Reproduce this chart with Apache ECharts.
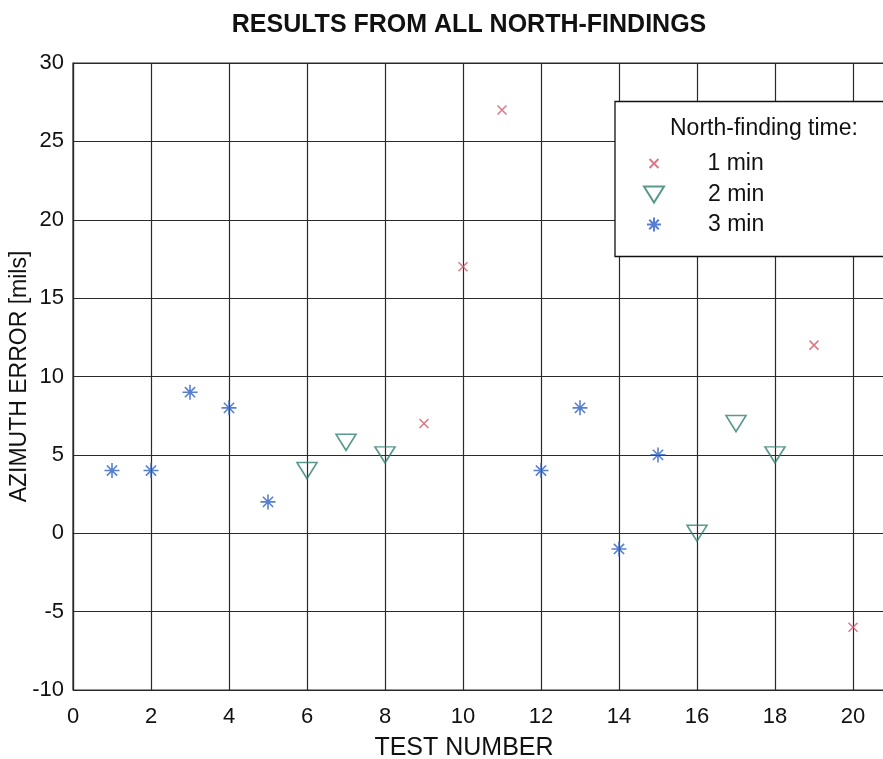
<!DOCTYPE html>
<html>
<head>
<meta charset="utf-8">
<script src="https://cdn.jsdelivr.net/npm/echarts@6/dist/echarts.min.js"></script>
<style>html,body{margin:0;padding:0;background:#fff}#c{width:883px;height:759px}</style>
</head>
<body>
<div id="c"></div>
<script>
// Data (test number, azimuth error in mils)
const oneMin = [[9, 7], [10, 17], [11, 27], [19, 12], [20, -6]];
const twoMin = [[6, 4], [7, 5.8], [8, 5], [16, 0], [17, 7], [18, 5]];
const threeMin = [[1, 4], [2, 4], [3, 9], [4, 8], [5, 2], [12, 4], [13, 8], [14, -1], [15, 5]];
const seriesNames = ['1 min', '2 min', '3 min'];
const titleText = 'RESULTS FROM ALL NORTH-FINDINGS';
const xName = 'TEST NUMBER';
const yName = 'AZIMUTH ERROR [mils]';
const legendHeader = 'North-finding time:';

const FONT = '"Liberation Sans", Arial, Helvetica, sans-serif';
const symX = 'path://M0,0 L10,10 M10,0 L0,10';
const symTri = 'path://M0,0 L10,0 L5,8 Z';
const symStar = 'path://M5,0 L5,10 M0,5 L10,5 M1.6,1.6 L8.4,8.4 M8.4,1.6 L1.6,8.4';
const cRed = '#d2566a', cTeal = '#2f8072', cBlue = '#2c5fc6';

const chart = echarts.init(document.getElementById('c'), null, {renderer: 'canvas'});
const lineCol = '#2a2a2a';
chart.setOption({
  animation: false,
  backgroundColor: '#fff',
  title: {
    text: titleText, left: 464, top: 8, textAlign: 'center',
    textStyle: {fontFamily: FONT, fontSize: 25, fontWeight: 'bold', color: '#111'}
  },
  grid: {left: 73, top: 63, width: 858, height: 627, show: true, borderColor: lineCol, borderWidth: 1.2,
         backgroundColor: '#fff', outerBoundsMode: 'none', containLabel: false},
  xAxis: {
    type: 'value', min: 0, max: 22, interval: 2,
    name: xName, nameLocation: 'middle', nameGap: 46, nameMoveOverlap: false,
    nameTextStyle: {fontFamily: FONT, fontSize: 25, color: '#111', align: 'center', padding: [0, 76, 0, 0]},
    axisLine: {show: true, lineStyle: {color: lineCol, width: 1.2}},
    axisTick: {show: false},
    axisLabel: {fontFamily: FONT, fontSize: 22, color: '#111', margin: 16},
    splitLine: {show: true, lineStyle: {color: lineCol, width: 1.2}}
  },
  yAxis: {
    type: 'value', min: -10, max: 30, interval: 5,
    name: yName, nameLocation: 'middle', nameGap: 42, nameMoveOverlap: false,
    nameTextStyle: {fontFamily: FONT, fontSize: 23, color: '#111'},
    axisLine: {show: true, lineStyle: {color: lineCol, width: 1.2}},
    axisTick: {show: false},
    axisLabel: {fontFamily: FONT, fontSize: 22, color: '#111', margin: 9},
    splitLine: {show: true, lineStyle: {color: lineCol, width: 1.2}}
  },
  graphic: [
    {type: 'rect', z: 50, shape: {x: 615, y: 101.5, width: 300, height: 155},
     style: {fill: '#fff', stroke: '#111', lineWidth: 1.3}},
    {type: 'text', z: 51, x: 670, y: 117,
     style: {text: legendHeader, font: '23px ' + FONT, fill: '#111', textVerticalAlign: 'top'}}
  ],
  legend: [
    {data: [seriesNames[0]], orient: 'vertical', left: 643.5, top: 147, z: 100,
     itemWidth: 9, itemHeight: 9, selectedMode: false,
     textStyle: {fontFamily: FONT, fontSize: 23, color: '#111', padding: [0, 0, 0, 44]}},
    {data: [seriesNames[1]], orient: 'vertical', left: 638, top: 178, z: 100,
     itemWidth: 20, itemHeight: 16, selectedMode: false,
     textStyle: {fontFamily: FONT, fontSize: 23, color: '#111', padding: [0, 0, 0, 39]}},
    {data: [seriesNames[2]], orient: 'vertical', left: 641, top: 208, z: 100,
     itemWidth: 14, itemHeight: 14, selectedMode: false,
     textStyle: {fontFamily: FONT, fontSize: 23, color: '#111', padding: [0, 0, 0, 42]}}
  ],
  series: [
    {name: seriesNames[0], type: 'scatter', data: oneMin, symbol: symX, symbolSize: 9,
     itemStyle: {color: 'rgba(0,0,0,0)', borderColor: cRed, borderWidth: 1.5}, emphasis: {disabled: true}, z: 10},
    {name: seriesNames[1], type: 'scatter', data: twoMin, symbol: symTri, symbolSize: [20, 16],
     itemStyle: {color: 'rgba(0,0,0,0)', borderColor: cTeal, borderWidth: 1.6}, emphasis: {disabled: true}, z: 10},
    {name: seriesNames[2], type: 'scatter', data: threeMin, symbol: symStar, symbolSize: 15,
     itemStyle: {color: 'rgba(0,0,0,0)', borderColor: cBlue, borderWidth: 1.6}, emphasis: {disabled: true}, z: 10}
  ]
});
</script>
</body>
</html>
